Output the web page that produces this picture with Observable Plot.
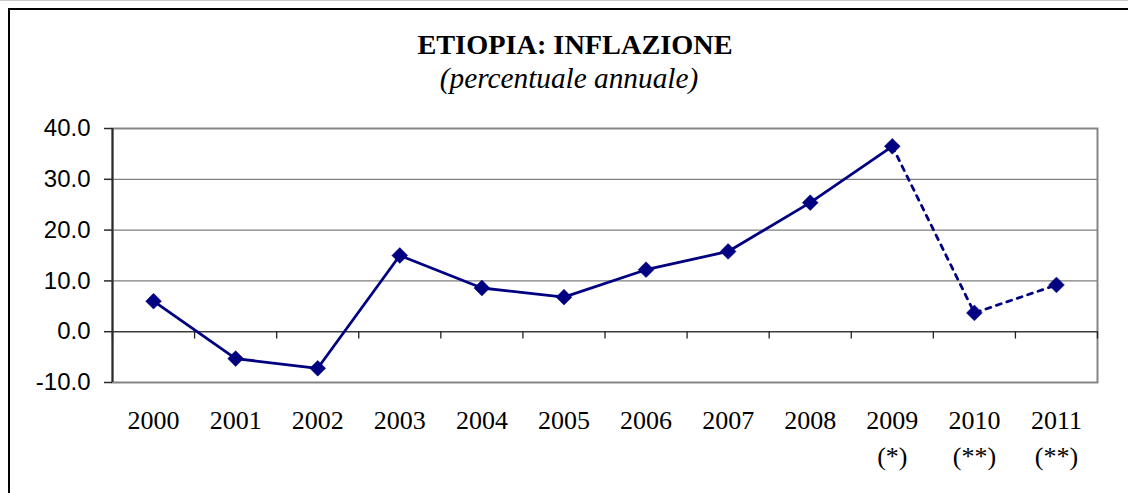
<!DOCTYPE html>
<html>
<head>
<meta charset="utf-8">
<script src="https://cdn.jsdelivr.net/npm/d3@7"></script>
<script src="https://cdn.jsdelivr.net/npm/@observablehq/plot@0.6"></script>
<style>
  html, body { margin: 0; padding: 0; background: #fff; }
  #wrap { position: relative; width: 1128px; height: 493px; overflow: hidden; background: #fff; }
  #border { position: absolute; left: 8px; top: 8px; width: 1300px; height: 700px; border: 2px solid #000; box-sizing: border-box; pointer-events: none; }
  #topline { position: absolute; left: 0; top: 0; width: 1128px; height: 1px; background: #c8c8c8; }
  #chart { position: absolute; left: 0; top: 0; }
</style>
</head>
<body>
<div id="wrap">
  <div id="chart"></div>
  <div id="topline"></div>
  <div id="border"></div>
</div>
<script>
const years = ["2000","2001","2002","2003","2004","2005","2006","2007","2008","2009","2010","2011"];
const notes = ["","","","","","","","","","(*)","(**)","(**)"];
const inflation = [6.0, -5.3, -7.2, 15.0, 8.6, 6.8, 12.2, 15.8, 25.4, 36.5, 3.7, 9.2];
const yTicks = [-10, 0, 10, 20, 30, 40];
const gridLines = [10, 20, 30];
const titleText = "ETIOPIA: INFLAZIONE";
const subtitleText = "(percentuale annuale)";

const data = years.map((y, i) => ({i, year: y, note: notes[i], value: inflation[i],
  label: notes[i] ? y + "\n" + notes[i] : y}));
const actual = data.filter(d => d.i <= 9);
const forecast = data.filter(d => d.i >= 9);
const boundaries = d3.range(-0.5, years.length, 1);

const serif = "'Liberation Serif', 'Times New Roman', Times, serif";
const sans = "'Liberation Sans', Arial, Helvetica, sans-serif";

const chart = Plot.plot({
  width: 1128,
  height: 493,
  marginLeft: 112,
  marginRight: 31,
  marginTop: 128,
  marginBottom: 111,
  style: {background: "transparent", overflow: "visible"},
  x: {type: "linear", domain: [-0.5, years.length - 0.5], axis: null},
  y: {domain: [-10, 40], axis: null},
  marks: [
    Plot.ruleY(gridLines, {stroke: "#7f7f7f", strokeWidth: 1.2}),
    Plot.frame({stroke: "#858585", strokeWidth: 2}),
    Plot.ruleY([0], {stroke: "#3c3c3c", strokeWidth: 1.5}),
    Plot.ruleX(boundaries, {x: d => d, y1: 0, y2: -1.45, stroke: "#222", strokeWidth: 1.3}),
    Plot.ruleX([-0.5], {stroke: "#2a2a2a", strokeWidth: 2}),
    Plot.axisY({ticks: yTicks, tickSize: 8, tickPadding: 14, tickFormat: d => d.toFixed(1), label: null,
      fontSize: 24, fontFamily: sans, fill: "#000", stroke: "#2a2a2a", strokeWidth: 1.5}),
    Plot.line(actual, {x: "i", y: "value", stroke: "#000080", strokeWidth: 2.8}),
    Plot.line(forecast, {x: "i", y: "value", stroke: "#000080", strokeWidth: 2.8, strokeDasharray: "5,6"}),
    Plot.dot(data, {x: "i", y: "value", symbol: "square", r: 6.3, rotate: 45, fill: "#000080", stroke: "#000080", strokeWidth: 0.5}),
    Plot.text(data, {x: "i", y: () => -10, text: "label", dy: 22, lineAnchor: "top", lineHeight: 1.35,
      fontSize: 26, fontFamily: serif, fill: "#000"})
  ]
});

const svg = d3.select(chart);
svg.append("text").attr("x", 575).attr("y", 53.5).attr("text-anchor", "middle")
  .style("font-family", serif).style("font-weight", "bold").style("font-size", "28.3px")
  .text(titleText);
svg.append("text").attr("x", 569).attr("y", 88).attr("text-anchor", "middle")
  .style("font-family", serif).style("font-style", "italic").style("font-size", "29.3px")
  .text(subtitleText);

document.getElementById("chart").appendChild(chart);
</script>
</body>
</html>
